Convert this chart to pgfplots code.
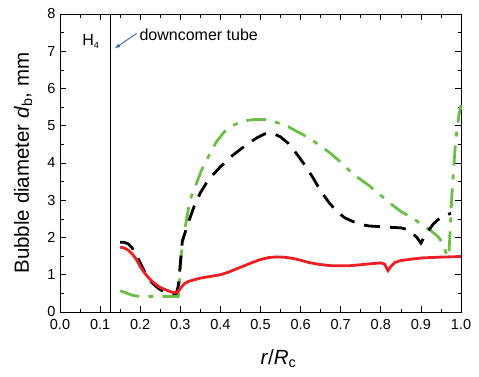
\documentclass[border=0pt]{standalone}
\usepackage{fontspec}
\setmainfont{Liberation Sans}
\usepackage{pgfplots}
\pgfplotsset{compat=1.18}
\definecolor{cred}{RGB}{236,32,36}
\definecolor{cgreen}{RGB}{108,190,70}
\definecolor{cblue}{RGB}{40,90,170}
\begin{document}
\begin{tikzpicture}
\begin{axis}[
  at={(60pt,64pt)}, anchor=south west,
  scale only axis, width=401pt, height=298pt,
  xmin=0, xmax=1, ymin=0, ymax=8,
  xtick={0,0.1,...,1.01}, ytick={0,1,...,8},
  minor x tick num=1, minor y tick num=1,
  tick align=inside,
  major tick length=6pt, minor tick length=3.5pt,
  every tick/.style={black, line width=0.7pt},
  axis line style={line width=0.8pt},
  /pgf/number format/assume math mode=true,
  xticklabel style={font=\fontsize{14.5}{17}\selectfont, yshift=-4pt, /pgf/number format/.cd, fixed, fixed zerofill, precision=1},
  yticklabel style={font=\fontsize{14.5}{17}\selectfont, xshift=-1pt},
  xlabel={\textit{r}/\textit{R}\textsubscript{c}},
  ylabel={Bubble diameter \textit{d}\textsubscript{b}, mm},
  every axis y label/.style={at={(axis description cs:-0.092,0.5)}, rotate=90, anchor=center, font=\fontsize{20.5}{24}\selectfont},
  every axis x label/.style={at={(axis description cs:0.545,-0.175)}, anchor=base, font=\fontsize{20.5}{24}\selectfont},
  clip=false,
]
\addplot[black, line width=0.8pt] coordinates {(0.125,0) (0.125,8)};
\addplot[cgreen, line width=2.8pt, dash pattern=on 20pt off 9pt on 5pt off 9pt] coordinates {
(0.15,0.57) (0.16,0.53) (0.17,0.49) (0.18,0.45) (0.19,0.43) (0.20,0.42) (0.25,0.42) (0.295,0.42)
(0.298,0.8) (0.302,1.5) (0.307,1.95) (0.315,2.45) (0.324,3.0) (0.337,3.36) (0.353,3.81) (0.37,4.17)
(0.39,4.57) (0.41,4.84) (0.43,5.0) (0.45,5.1) (0.47,5.15) (0.49,5.17) (0.51,5.17) (0.53,5.13)
(0.55,5.05) (0.57,4.97) (0.59,4.85) (0.615,4.71) (0.64,4.53) (0.67,4.30) (0.695,4.07) (0.715,3.86)
(0.74,3.63) (0.77,3.40) (0.80,3.13) (0.823,2.92) (0.85,2.70) (0.873,2.56) (0.90,2.37) (0.923,2.2)
(0.943,2.02) (0.955,1.85) (0.962,1.6) (0.967,1.48) (0.970,1.6) (0.973,2.2) (0.977,3.1) (0.982,3.9)
(0.986,4.5) (0.990,4.9) (0.995,5.3) (1.0,5.55)};
\addplot[black, line width=2.8pt, dash pattern=on 16pt off 10pt] coordinates {
(0.15,1.87) (0.16,1.87) (0.17,1.83) (0.18,1.72) (0.19,1.55) (0.20,1.32) (0.21,1.10) (0.22,0.90)
(0.23,0.78) (0.24,0.68) (0.25,0.60) (0.26,0.55) (0.27,0.51) (0.28,0.49) (0.29,0.50) (0.295,0.7)
(0.298,1.05) (0.305,1.9) (0.32,2.4) (0.335,2.85) (0.35,3.2) (0.37,3.55) (0.40,3.9) (0.43,4.2)
(0.46,4.45) (0.49,4.67) (0.51,4.78) (0.53,4.80) (0.55,4.70) (0.57,4.52) (0.59,4.25) (0.61,3.95)
(0.63,3.62) (0.65,3.25) (0.67,2.95) (0.69,2.70) (0.71,2.53) (0.73,2.43) (0.75,2.35) (0.77,2.31)
(0.80,2.29) (0.83,2.27) (0.85,2.26) (0.87,2.20) (0.89,2.0) (0.90,1.85) (0.91,2.05) (0.93,2.35)
(0.95,2.55) (0.975,2.65)};
\addplot[cred, line width=2.8pt] coordinates {
(0.15,1.74) (0.16,1.72) (0.17,1.66) (0.18,1.56) (0.19,1.42) (0.20,1.22) (0.21,1.06) (0.22,0.93)
(0.23,0.82) (0.24,0.73) (0.25,0.66) (0.26,0.61) (0.27,0.57) (0.28,0.53) (0.29,0.52) (0.295,0.55)
(0.30,0.63) (0.31,0.76) (0.32,0.82) (0.35,0.91) (0.40,1.00) (0.42,1.07) (0.45,1.20) (0.48,1.33)
(0.50,1.41) (0.52,1.46) (0.54,1.48) (0.56,1.47) (0.58,1.44) (0.60,1.39) (0.62,1.33) (0.64,1.29)
(0.66,1.26) (0.68,1.24) (0.70,1.24) (0.72,1.24) (0.74,1.26) (0.76,1.28) (0.78,1.30) (0.80,1.32)
(0.81,1.28) (0.818,1.11) (0.825,1.22) (0.835,1.33) (0.85,1.38) (0.87,1.41) (0.90,1.45) (0.94,1.47)
(0.97,1.48) (1.0,1.49)};
\addplot[cblue, line width=0.8pt, -{latex}] coordinates {(0.191,7.48) (0.137,7.08)};
\node[anchor=base west, font=\fontsize{16}{19}\selectfont, inner sep=0pt] at (axis cs:0.198,7.28) {downcomer tube};
\node[anchor=base west, font=\fontsize{16}{19}\selectfont, inner sep=0pt] at (axis cs:0.055,7.15) {H{\fontsize{9}{10}\selectfont\raisebox{-3pt}{4}}};
\end{axis}
\pgfresetboundingbox
\useasboundingbox (0,0) rectangle (479pt,376pt);
\end{tikzpicture}
\end{document}
